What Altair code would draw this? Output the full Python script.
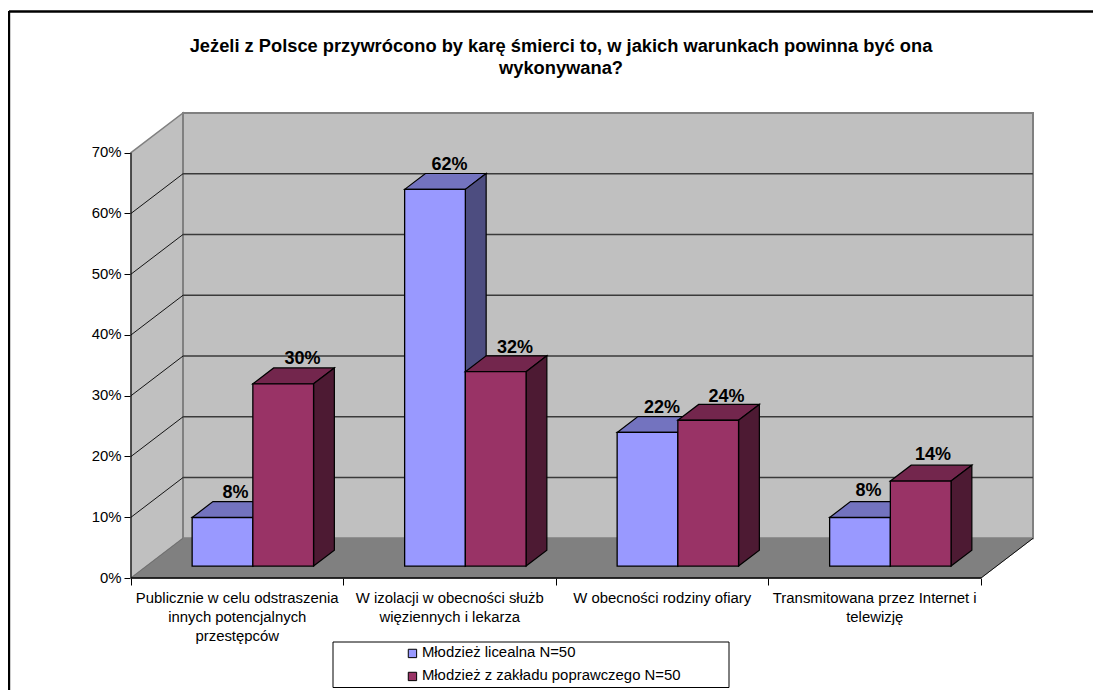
import altair as alt
import pandas as pd

# ---- data ----
categories = [
    "Publicznie w celu odstraszenia\ninnych potencjalnych\nprzestępców",
    "W izolacji w obecności służb\nwięziennych i lekarza",
    "W obecności rodziny ofiary",
    "Transmitowana przez Internet i\ntelewizję",
]
series_names = ["Młodzież licealna N=50", "Młodzież z zakładu poprawczego N=50"]
series_a = [8, 62, 22, 8]
series_b = [30, 32, 24, 14]
y_ticks = [0, 10, 20, 30, 40, 50, 60, 70]
title_lines = [
    "Jeżeli z Polsce przywrócono by karę śmierci to, w jakich warunkach powinna być ona",
    "wykonywana?",
]

# ---- projection / style ----
W, H = 902, 465
PAD_L, PAD_T = 123, 105
DX = 52 / 212.5        # depth shift, in category units
DY = 39.7 / 6.08       # depth shift, in percent units
X_MAX = 4 + DX
Y_MAX = 70 + DY
GAP = 0.75 / 3.5
BAR = 1 / 3.5
D0, D1 = 0.3, 0.7      # bar depth range
PX_X = W / X_MAX
PX_Y = H / Y_MAX

front = ["#9999FF", "#993366"]
top = ["#7373BF", "#73264D"]
side = ["#4D4D80", "#4D1A33"]
label_nudge = [(2.5, 0), (9, 0), (4, 0), (9, -1.5), (4, 0), (8, -2), (-2, 2), (2, 1.5)]
FS = 14.9

sx = alt.Scale(domain=[0, X_MAX], nice=False, zero=False)
sy = alt.Scale(domain=[0, Y_MAX], nice=False, zero=False)
x_axis = alt.Axis(values=[0, 1, 2, 3, 4], labels=False, domain=False, grid=False, title=None,
                  tickSize=7, tickColor="#000000", tickWidth=1)
y_axis = alt.Axis(values=y_ticks, domain=False, grid=False, title=None, tickSize=7,
                  tickColor="#000000", tickWidth=1, labelExpr="datum.value + '%'",
                  labelFont="Liberation Sans", labelFontSize=FS, labelColor="#000000",
                  labelPadding=3)
X = lambda f="x": alt.X(f"{f}:Q", scale=sx, axis=x_axis)
Y = lambda f="y": alt.Y(f"{f}:Q", scale=sy, axis=y_axis)


def para_top(x0, x1, v, d0, d1, id_):
    """horizontal parallelogram seen from above"""
    xa, xb = x0 + d0 * DX, x1 + d0 * DX
    s = (d1 - d0) * DX
    lo, hi = v + d0 * DY, v + d1 * DY
    return [
        dict(id=id_, x=xa, y=lo, y2=lo),
        dict(id=id_, x=xa + s, y=hi, y2=lo),
        dict(id=id_, x=xb, y=hi, y2=lo),
        dict(id=id_, x=xb + s, y=hi, y2=hi),
    ]


def para_side(x, v, d0, d1, id_):
    """vertical parallelogram going into depth"""
    return [
        dict(id=id_, x=x + d0 * DX, y=v + d0 * DY, y2=d0 * DY),
        dict(id=id_, x=x + d1 * DX, y=v + d1 * DY, y2=d1 * DY),
    ]


def area(rows, fill, stroke, sw=1.2):
    return alt.Chart(pd.DataFrame(rows)).mark_area(
        fill=fill, stroke=stroke, strokeWidth=sw, opacity=1, interpolate="linear"
    ).encode(x=X(), y=Y(), y2=alt.Y2("y2:Q"), detail="id:N")


def rules(rows, color, sw):
    return alt.Chart(pd.DataFrame(rows)).mark_rule(color=color, strokeWidth=sw).encode(
        x=X(), x2=alt.X2("x2:Q"), y=Y(), y2=alt.Y2("y2:Q")
    )


layers = []

# walls and floor
layers.append(area(para_top(0, 4, 0, 0, 1, "floor"), "#808080", "#808080", 1))
layers.append(area(para_side(0, 70, 0, 1, "left"), "#C0C0C0", "#808080", 1.5))
layers.append(
    alt.Chart(pd.DataFrame([dict(x=DX, x2=X_MAX, y=DY, y2=Y_MAX)]))
    .mark_rect(fill="#C0C0C0", stroke="#808080", strokeWidth=2)
    .encode(x=X(), x2=alt.X2("x2:Q"), y=Y(), y2=alt.Y2("y2:Q"))
)
grid = [v for v in y_ticks if 0 < v < 70]
layers.append(rules([dict(x=DX, x2=X_MAX, y=v + DY, y2=v + DY) for v in grid], "#3A3A3A", 1.4))
layers.append(rules([dict(x=0, x2=DX, y=v, y2=v + DY) for v in grid], "#000000", 0.9))
layers.append(rules([dict(x=4, x2=X_MAX, y=0, y2=DY)], "#000000", 0.9))
layers.append(rules([dict(x=0, x2=DX, y=0, y2=DY)], "#707070", 1))

# bars
for s, values in enumerate([series_a, series_b]):
    tops, sides, fronts = [], [], []
    for c, v in enumerate(values):
        x0 = c + GAP + s * BAR
        x1 = x0 + BAR
        tops += para_top(x0, x1, v, D0, D1, f"t{c}")
        sides += para_side(x1, v, D0, D1, f"s{c}")
        fronts.append(dict(x=x0 + D0 * DX, x2=x1 + D0 * DX, y=D0 * DY, y2=v + D0 * DY,
                           series=series_names[s]))
    layers.append(area(tops, top[s], "#000000"))
    layers.append(area(sides, side[s], "#000000"))
    layers.append(
        alt.Chart(pd.DataFrame(fronts))
        .mark_rect(stroke="#000000", strokeWidth=1.3)
        .encode(
            x=X(), x2=alt.X2("x2:Q"), y=Y(), y2=alt.Y2("y2:Q"),
            fill=alt.Fill(
                "series:N",
                scale=alt.Scale(domain=series_names, range=front),
                legend=alt.Legend(
                    title=None, orient="none", legendX=274, legendY=533,
                    symbolType="square", symbolSize=70, symbolStrokeColor="#000000",
                    symbolStrokeWidth=1, labelFont="Liberation Sans", labelFontSize=FS,
                    labelColor="#000000", rowPadding=7, labelOffset=2,
                    labelLimit=400, padding=0,
                ),
            ),
        )
    )

# value labels
rows = []
for c in range(4):
    for s, v in enumerate((series_a[c], series_b[c])):
        ndx, ndy = label_nudge[c * 2 + s]
        xc = c + GAP + s * BAR + BAR / 2 + (D0 + D1) / 2 * DX
        rows.append(dict(x=xc + ndx / PX_X, y=v + D1 * DY + (4 + ndy) / PX_Y, label=f"{v}%"))
layers.append(
    alt.Chart(pd.DataFrame(rows))
    .mark_text(font="Liberation Sans", fontWeight="bold", fontSize=18, baseline="alphabetic",
               color="#000000")
    .encode(x=X(), y=Y(), text="label:N")
)

layers.append(rules([dict(x=0, x2=0, y=0, y2=70)], "#000000", 1))
layers.append(rules([dict(x=0, x2=4, y=0, y2=0)], "#000000", 1.5))

# category labels
layers.append(
    alt.Chart(pd.DataFrame(dict(x=[i + 0.5 for i in range(4)], label=categories)))
    .mark_text(font="Liberation Sans", fontSize=FS, lineBreak="\n", lineHeight=19,
               baseline="alphabetic", color="#000000")
    .encode(x=X(), y=alt.value(H + 24.5), text="label:N")
)

# legend box and outer frame of the sheet
box = (
    alt.Chart(pd.DataFrame(dict(a=[1])))
    .mark_rect(fill="#FFFFFF", stroke="#000000", strokeWidth=1)
    .encode(x=alt.value(202), x2=alt.value(598), y=alt.value(529), y2=alt.value(574.5))
)
frame_top = (
    alt.Chart(pd.DataFrame(dict(a=[1])))
    .mark_rule(color="#000000", strokeWidth=2.4)
    .encode(x=alt.value(-PAD_L + 1), x2=alt.value(W + 60), y=alt.value(-PAD_T + 3.5))
)
frame_left = (
    alt.Chart(pd.DataFrame(dict(a=[1])))
    .mark_rule(color="#000000", strokeWidth=2.4)
    .encode(x=alt.value(-PAD_L + 1), y=alt.value(-PAD_T + 3), y2=alt.value(H + 112))
)
layers += [box, frame_top, frame_left]

chart = (
    alt.layer(*layers)
    .resolve_scale(fill="shared")
    .properties(
        width=W,
        height=H,
        padding={"left": PAD_L, "top": PAD_T, "right": 1085 - PAD_L - W, "bottom": 682 - PAD_T - H},
        autosize=alt.AutoSizeParams(type="none"),
        background="#FFFFFF",
        title=alt.TitleParams(
            text=title_lines, font="Liberation Sans", fontSize=18.3, fontWeight="bold",
            color="#000000", anchor="middle", dx=-21, offset=-68, lineHeight=22,
        ),
    )
    .configure_view(stroke=None)
)

chart.save("out.html", embed_options={"renderer": "svg", "actions": False})
